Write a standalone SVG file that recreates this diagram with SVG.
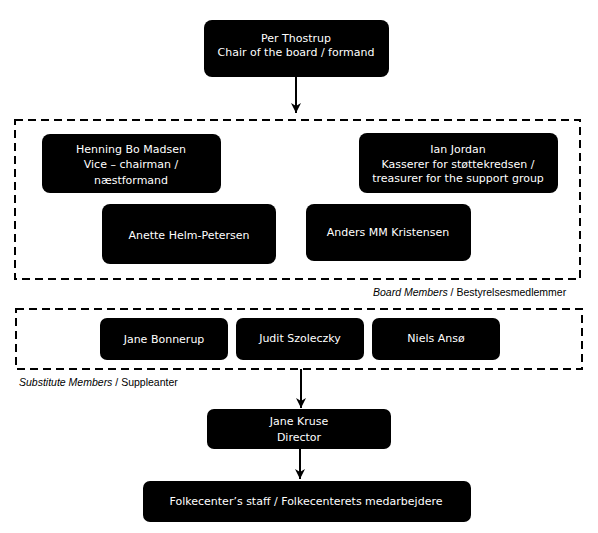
<svg xmlns="http://www.w3.org/2000/svg" width="598" height="533" viewBox="0 0 598 533">
<style>
.node rect{fill:#000}
.node text{fill:#fff;font-family:"DejaVu Sans",Verdana,sans-serif;font-size:11px;text-anchor:middle}
.group{fill:none;stroke:#000;stroke-width:2;stroke-dasharray:8,5}
.lbl{font-family:"Liberation Sans",Arial,sans-serif;font-size:10.5px;fill:#000}
.conn line{stroke:#000;stroke-width:2}
</style>
<defs>
<marker id="arr" viewBox="0 0 10 10" refX="10" refY="5" markerWidth="10" markerHeight="10" markerUnits="userSpaceOnUse" orient="auto" overflow="visible">
<path d="M0,0 L10,5 L0,10 L3,5 Z" fill="#000"/>
</marker>
</defs>
<rect class="group" x="15" y="120" width="565" height="159"/>
<rect class="group" x="16" y="309" width="566" height="60"/>
<text class="lbl" x="373" y="296"><tspan font-style="italic">Board Members</tspan> / Bestyrelsesmedlemmer</text>
<text class="lbl" x="19" y="386"><tspan font-style="italic">Substitute Members</tspan> / Suppleanter</text>
<g class="conn">
<line x1="296" y1="77" x2="296" y2="113" marker-end="url(#arr)"/>
<line x1="301" y1="369" x2="301" y2="408" marker-end="url(#arr)"/>
<line x1="300" y1="449" x2="300" y2="479" marker-end="url(#arr)"/>
</g>
<g id="per" class="node"><rect x="204" y="20" width="185" height="57" rx="8"/><text x="296" y="42">Per Thostrup</text><text x="296" y="56">Chair of the board / formand</text></g>
<g id="henning" class="node"><rect x="42" y="134" width="179" height="59" rx="8"/><text x="131" y="153">Henning Bo Madsen</text><text x="131" y="168">Vice – chairman /</text><text x="131" y="184">næstformand</text></g>
<g id="ian" class="node"><rect x="359" y="133" width="199" height="60" rx="8"/><text x="458" y="153">Ian Jordan</text><text x="458" y="168">Kasserer for støttekredsen /</text><text x="458" y="182">treasurer for the support group</text></g>
<g id="anette" class="node"><rect x="102" y="204" width="174" height="60" rx="8"/><text x="189" y="239">Anette Helm-Petersen</text></g>
<g id="anders" class="node"><rect x="306" y="204" width="165" height="57" rx="8"/><text x="388" y="236">Anders MM Kristensen</text></g>
<g id="jane-b" class="node"><rect x="100" y="318" width="128" height="42" rx="7"/><text x="164" y="343">Jane Bonnerup</text></g>
<g id="judit" class="node"><rect x="236" y="318" width="128" height="42" rx="7"/><text x="300" y="342">Judit Szoleczky</text></g>
<g id="niels" class="node"><rect x="372" y="318" width="128" height="42" rx="7"/><text x="436" y="342">Niels Ansø</text></g>
<g id="jane-k" class="node"><rect x="207" y="409" width="184" height="40" rx="7"/><text x="299" y="425">Jane Kruse</text><text x="299" y="441">Director</text></g>
<g id="staff" class="node"><rect x="143" y="481" width="328" height="41" rx="7"/><text x="306" y="505">Folkecenter’s staff / Folkecenterets medarbejdere</text></g>
</svg>
